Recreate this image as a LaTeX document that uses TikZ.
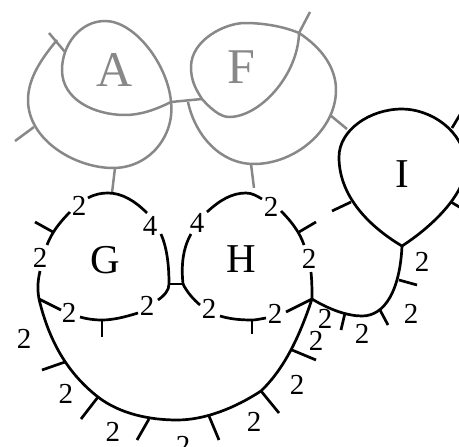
\documentclass[tikz,border=0pt]{standalone}
\usepackage{fontspec}
\setmainfont{Liberation Serif}
\definecolor{gy}{HTML}{888888}
\tikzset{
  ln/.style={line width=2.7pt,black,line join=round},
  gr/.style={line width=2.5pt,draw=gy,line join=round},
  dg/.style={inner sep=0,font=\fontsize{29}{29}\selectfont},
  lt/.style={inner sep=0,font=\fontsize{41}{41}\selectfont},
  gl/.style={inner sep=0,text=gy,font=\fontsize{50}{50}\selectfont},
}
\begin{document}
\begin{tikzpicture}[x=1pt,y=-1pt]
\useasboundingbox (0,0) rectangle (459,447);
\clip (0,0) rectangle (459,447);
% junctions
\coordinate (ja) at (171,102);
\coordinate (jf) at (202,99);
\coordinate (jo) at (188,102);
\coordinate (gt) at (112,193);
\coordinate (ht) at (254,188);
\coordinate (fi) at (330,115);
\coordinate (it) at (347,129);
\coordinate (ftop) at (299,33);
\coordinate (gh1) at (169,284);
\coordinate (gh2) at (183,284);
\coordinate (gl) at (39,299);
\coordinate (hr) at (312,299);
\coordinate (ib) at (402,246);
% grey
\draw[gr] (ja) .. controls (168,65) and (135,21) .. (105,21)
  .. controls (80,21) and (62,45) .. (62,70)
  .. controls (62,100) and (95,115) .. (125,115)
  .. controls (140,115) and (155,110) .. (ja);
\draw[gr] (ja) .. controls (175,135) and (150,168) .. (113,168)
  .. controls (75,168) and (28,140) .. (28,100)
  .. controls (28,78) and (42,58) .. (57,40);
\draw[gr] (ja) -- (jf);
\draw[gr] (jf) .. controls (195,88) and (191,80) .. (191,67)
  .. controls (191,40) and (225,23) .. (245,23)
  .. controls (265,23) and (285,27) .. (ftop)
  .. controls (298,75) and (260,117) .. (229,117)
  .. controls (220,117) and (210,108) .. (jf);
\draw[gr] (jo) .. controls (195,135) and (220,164) .. (254,164)
  .. controls (295,164) and (336,130) .. (336,90)
  .. controls (336,68) and (322,48) .. (ftop);
\draw[gr] (49,33) -- (65,52);
\draw[gr] (15,141) -- (34,127);
\draw[gr] (115,168) -- (gt);
\draw[gr] (ftop) -- (310,12);
\draw[gr] (fi) -- (it);
\draw[gr] (251,164) -- (ht);
% I loop
\draw[ln] (ib) .. controls (375,230) and (339,200) .. (339,157)
  .. controls (339,130) and (370,109) .. (402,109)
  .. controls (430,109) and (464,130) .. (466,165)
  .. controls (466,195) and (430,228) .. (ib);
\draw[ln] (452,128) -- (461,113);
\draw[ln] (451,202) -- (461,208);
\draw[ln] (351,202) -- (332,211);
% G
\draw[ln] (88,198) .. controls (95,194) and (102,193) .. (108,193)
  .. controls (122,193) and (135,201) .. (147,213);
\draw[ln] (161,234) .. controls (167,248) and (169,265) .. (gh1)
  .. controls (169,290) and (165,295) .. (158,300);
\draw[ln] (138,313) .. controls (125,317) and (113,320) .. (102,320)
  .. controls (94,320) and (87,319) .. (80,317);
\draw[ln] (61,310) -- (gl);
\draw[ln] (gl) .. controls (37,288) and (38,280) .. (40,271);
\draw[ln] (47,245) .. controls (52,232) and (60,222) .. (70,212);
\draw[ln] (35,222) -- (53,232);
\draw[ln] (102,320) -- (102,337);
\draw[ln] (gh1) -- (gh2);
% H
\draw[ln] (gh2) .. controls (181,265) and (183,248) .. (191,234);
\draw[ln] (207,212) .. controls (220,200) and (232,193) .. (246,193)
  .. controls (252,193) and (257,196) .. (262,199);
\draw[ln] (281,211) .. controls (292,222) and (300,233) .. (304,245);
\draw[ln] (311,272) .. controls (312,282) and (312,290) .. (hr);
\draw[ln] (hr) -- (286,312);
\draw[ln] (266,318) .. controls (260,319) and (256,320) .. (252,320)
  .. controls (240,320) and (230,319) .. (220,316);
\draw[ln] (200,305) .. controls (193,299) and (187,292) .. (gh2);
\draw[ln] (299,232) -- (316,222);
\draw[ln] (252,320) -- (252,334);
% big arc
\draw[ln] (gl) .. controls (50,345) and (70,375) .. (98,397)
  .. controls (120,414) and (150,420) .. (177,420)
  .. controls (205,420) and (235,408) .. (261,391)
  .. controls (285,368) and (300,335) .. (hr);
\draw[ln] (65,362) -- (42,370);
\draw[ln] (98,397) -- (81,419);
\draw[ln] (149,419) -- (137,440);
\draw[ln] (209,416) -- (219,440);
\draw[ln] (261,391) -- (279,413);
\draw[ln] (292,350) -- (316,360);
% right arc
\draw[ln] (hr) .. controls (330,310) and (348,316) .. (362,316)
  .. controls (385,316) and (400,290) .. (ib);
\draw[ln] (345,313) -- (341,330);
\draw[ln] (380,310) -- (388,325);
\draw[ln] (399,280) -- (417,285);
% letters
\node[gl] (A) at (115,70) {A};
\node[gl] (F) at (241,67) {F};
\node[lt] (G) at (105,260) {G};
\node[lt] (H) at (241,259) {H};
\node[lt] (I) at (402,174) {I};
% labels
\node[dg] (d1) at (79,206) {2};
\node[dg] (d2) at (150,226) {4};
\node[dg] (d3) at (197,223) {4};
\node[dg] (d4) at (271,207) {2};
\node[dg] (d5) at (40,258) {2};
\node[dg] (d6) at (309,259) {2};
\node[dg] (d7) at (147,306) {2};
\node[dg] (d8) at (69,313) {2};
\node[dg] (d9) at (209,309) {2};
\node[dg] (d10) at (275,314) {2};
\node[dg] (d11) at (422,262) {2};
\node[dg] (d12) at (411,314) {2};
\node[dg] (d13) at (325,319) {2};
\node[dg] (d14) at (316,341) {2};
\node[dg] (d15) at (362,334) {2};
\node[dg] (d16) at (297,385) {2};
\node[dg] (d17) at (254,422) {2};
\node[dg] (d18) at (24,339) {2};
\node[dg] (d19) at (66,394) {2};
\node[dg] (d20) at (113,432) {2};
\node[dg] (d21) at (183,446) {2};
\end{tikzpicture}
\end{document}
